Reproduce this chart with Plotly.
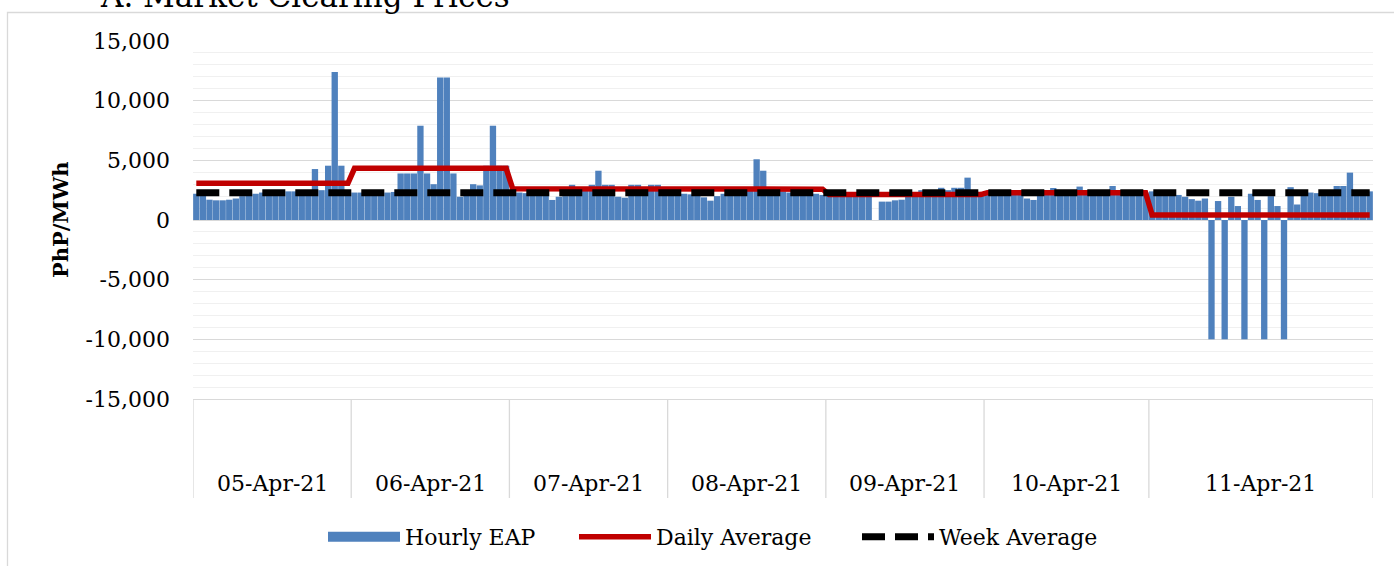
import plotly.graph_objects as go

# ---------------- data ----------------
days = ["05-Apr-21", "06-Apr-21", "07-Apr-21", "08-Apr-21",
        "09-Apr-21", "10-Apr-21", "11-Apr-21"]

eap_05 = [2200, 2100, 1700, 1650, 1650, 1700, 1800, 2000, 2100, 2200, 2300, 2300,
          2350, 2400, 2400, 2400, 2350, 2300, 4270, 2500, 4550, 12400, 4550, 2350]
eap_06 = [2300, 2300, 2250, 2200, 2200, 2300, 2350, 3900, 3900, 3900, 7900, 3900,
          3000, 11950, 11950, 3900, 1950, 2200, 3000, 2900, 4550, 7900, 4550, 4550]
eap_07 = [2300, 2300, 2250, 2200, 2200, 2150, 1680, 1950, 2000, 2950, 2500, 2600,
          2950, 4130, 2950, 2950, 1950, 1870, 2950, 2950, 2500, 2950, 2950, 2400]
eap_08 = [2300, 2250, 2200, 2150, 2100, 1900, 1620, 2000, 2200, 2300, 2400, 2500,
          2600, 5090, 4130, 2600, 2500, 2400, 2300, 2300, 2250, 2200, 2200, 2100]
eap_09 = [2200, 2150, 2100, 2100, 2050, 2100, 2100, 0, 1540, 1540, 1650, 1700,
          2100, 2300, 2500, 2500, 2500, 2700, 2500, 2700, 2700, 3550, 2500, 2300]
eap_10 = [2300, 2300, 2250, 2200, 2200, 2100, 1800, 1680, 2200, 2300, 2680, 2500,
          2400, 2450, 2800, 2500, 2400, 2400, 2400, 2850, 2400, 2300, 2300, 2300, 2300]
eap_11 = [2400, 2400, 2300, 2200, 2100, 1950, 1750, 1620, 1800, -10000, 1590, -10000,
          1950, 1170, -10000, 2200, 1680, -10000, 2000, 1170, -10000, 2750, 1300, 2300,
          2300, 2250, 2300, 2400, 2850, 2850, 3970, 2400, 2400, 2400]

daily_avg = [3080, 4330, 2620, 2580, 2130, 2290, 420]
week_avg = 2290

y_tick_vals = [15000, 10000, 5000, 0, -5000, -10000, -15000]
y_tick_text = ["15,000", "10,000", "5,000", "0", "-5,000", "-10,000", "-15,000"]

# ---------------- build series ----------------
per_day = [eap_05, eap_06, eap_07, eap_08, eap_09, eap_10, eap_11]
hourly = []
daily_line = []
day_start = []
for d, vals in enumerate(per_day):
    day_start.append(len(hourly))
    hourly.extend(vals)
    daily_line.extend([daily_avg[d]] * len(vals))
n = len(hourly)
xs = list(range(n))
week_line = [week_avg] * n

FONT = "DejaVu Serif"
BLUE = "#4F81BD"
RED = "#C00000"
GRID_MAJOR = "#D9D9D9"
GRID_MINOR = "#F0F0F0"

fig = go.Figure()
fig.add_trace(go.Bar(x=xs, y=hourly, name="Hourly EAP", marker=dict(color=BLUE, line=dict(width=0)),
                     showlegend=False))
# legend proxy for the bars (wide rectangle like the original)
fig.add_trace(go.Scatter(x=[None], y=[None], mode="lines", name="Hourly EAP",
                         line=dict(color=BLUE, width=17), legendwidth=164))
fig.add_trace(go.Scatter(x=xs, y=daily_line, mode="lines", name="Daily Average",
                         line=dict(color=RED, width=5.5), legendwidth=196))
fig.add_trace(go.Scatter(x=xs, y=week_line, mode="lines", name="Week Average",
                         line=dict(color="black", width=7, dash="23px,10px"), legendwidth=166))

# geometry in page pixels (body margin removed below)
W, H = 1394, 566
L, T = 193, 41
R = W - 1373
B = H - 399
ph = H - T - B
pw = W - L - R

def py(pix):  # page pixel y -> paper y
    return (H - B - pix) / ph

def px(pix):  # page pixel x -> paper x
    return (pix - L) / pw

shapes = []
bounds = [s - 0.5 for s in day_start] + [n - 0.5]
for b in bounds:
    shapes.append(dict(type="line", xref="x", yref="paper", x0=b, x1=b, y0=0, y1=py(498),
                       line=dict(color=GRID_MAJOR, width=1.3)))
shapes.append(dict(type="rect", xref="paper", yref="paper", x0=px(7.5), x1=px(1420),
                   y0=py(620), y1=py(12.5), line=dict(color=GRID_MAJOR, width=1.3),
                   fillcolor="rgba(0,0,0,0)", layer="below"))

annotations = []
for d, name in enumerate(days):
    c = day_start[d] + (len(per_day[d]) - 1) / 2
    annotations.append(dict(x=c, y=py(484), xref="x", yref="paper", text=name,
                            showarrow=False, font=dict(family=FONT, size=22, color="black"),
                            xanchor="center", yanchor="middle"))
annotations.append(dict(x=px(60), y=py(220), xref="paper", yref="paper", text="<b>PhP/MWh</b>",
                        textangle=-90, showarrow=False,
                        font=dict(family=FONT, size=21, color="black"),
                        xanchor="center", yanchor="middle"))
annotations.append(dict(x=px(98), y=py(16), xref="paper", yref="paper",
                        text="A. Market Clearing Prices", showarrow=False,
                        font=dict(family=FONT, size=31, color="black"),
                        xanchor="left", yanchor="bottom"))

fig.update_layout(
    width=W, height=H,
    margin=dict(l=L, r=R, t=T, b=B, pad=0, autoexpand=False),
    paper_bgcolor="white", plot_bgcolor="white",
    barmode="overlay", bargap=0.04,
    shapes=shapes, annotations=annotations,
    font=dict(family=FONT, size=22, color="black"),
    legend=dict(orientation="h", x=px(323), xanchor="left",
                y=py(537), yanchor="middle", itemwidth=72,
                font=dict(family=FONT, size=22, color="black"),
                bgcolor="rgba(0,0,0,0)", traceorder="normal", tracegroupgap=0),
    xaxis=dict(range=[-0.5, n - 0.5], showticklabels=False, showgrid=False, zeroline=False,
               showline=True, linecolor=GRID_MAJOR, linewidth=1.3, ticks="", fixedrange=True),
    yaxis=dict(range=[-15000, 15000], tickvals=y_tick_vals, ticktext=y_tick_text,
               showgrid=True, gridcolor=GRID_MAJOR, gridwidth=1.3, zeroline=False,
               ticks="", ticklabelstandoff=22, tickfont=dict(family=FONT, size=22, color="black"),
               minor=dict(dtick=1000, showgrid=True, gridcolor=GRID_MINOR, gridwidth=1.3),
               showline=False),
)

fig.write_html("out.html", config={"displayModeBar": False},
               post_script="document.body.style.margin='0px';")
